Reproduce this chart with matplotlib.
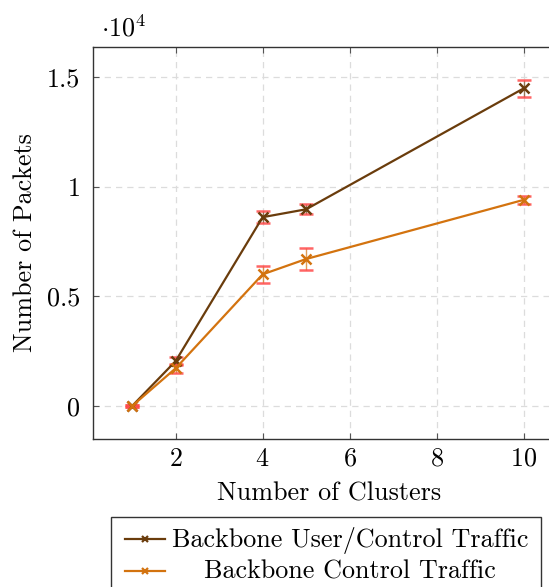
import matplotlib
matplotlib.use("Agg")
import matplotlib.pyplot as plt
from matplotlib.lines import Line2D
from matplotlib.patches import Rectangle
from matplotlib.ticker import FuncFormatter

# Data
clusters = [1, 2, 4, 5, 10]
user_control = [0, 2050, 8620, 8980, 14500]
user_control_err = [60, 180, 265, 230, 400]
control_only = [0, 1720, 6010, 6710, 9410]
control_only_err = [60, 210, 400, 490, 170]

series_labels = ["Backbone User/Control Traffic", "Backbone Control Traffic"]
x_ticks = [2, 4, 6, 8, 10]
y_ticks = [0, 5000, 10000, 15000]

brown = "#6a3c0c"
orange = "#d3730f"
cap_red = "#ff4a4a"

plt.rcParams["font.family"] = ["cmr10", "DejaVu Serif"]
plt.rcParams["mathtext.fontset"] = "cm"
plt.rcParams["axes.formatter.use_mathtext"] = True
FS = 18.8

W, H = 549, 587
fig = plt.figure(figsize=(W / 100, H / 100), dpi=100)

ax_left, ax_bottom = 93 / W, 1 - 438.6 / H
ax_width, ax_height = 469.8 / W, (438.6 - 47) / H
ax = fig.add_axes([ax_left, ax_bottom, ax_width, ax_height])

for y, err, col in [(user_control, user_control_err, brown),
                    (control_only, control_only_err, orange)]:
    line, caps, bars = ax.errorbar(clusters, y, yerr=err, color=col, lw=1.6,
                                   marker="x", ms=6.5, mew=1.8, ecolor=col,
                                   elinewidth=1.0, capsize=5, capthick=1.2,
                                   zorder=3)
    for c in caps:
        c.set_color(cap_red)
        c.set_markeredgecolor(cap_red)
        c.set_markerfacecolor(cap_red)
        c.set_alpha(0.85)
    for b in bars:
        b.set_alpha(0.7)

ax.set_xlim(0.1, 10.9)
ax.set_ylim(-1490, 16390)
ax.set_xticks(x_ticks)
ax.set_yticks(y_ticks)
ax.yaxis.set_major_formatter(FuncFormatter(lambda v, p: f"{v / 1e4:g}"))

ax.grid(True, color="#dcdcdc", ls=(0, (5, 4)), lw=0.9)
ax.set_axisbelow(True)
for s in ["left", "bottom", "top"]:
    ax.spines[s].set_color("#333333")
    ax.spines[s].set_linewidth(1.0)
ax.spines["right"].set_visible(False)
ax.tick_params(direction="in", length=4, width=0.8, color="#555555",
               labelsize=FS, top=True, right=False)
ax.tick_params(axis="x", pad=6)
ax.tick_params(axis="y", pad=9)

ax.set_xlabel("Number of Clusters", fontsize=FS, va="center")
ax.xaxis.set_label_coords((329 - 93) / 469.8, (438.6 - 494) / 391.6)
ax.set_ylabel("Number of Packets", fontsize=FS, va="center")
ax.yaxis.set_label_coords((25 - 93) / 469.8, 0.5)

fig.text(101 / W, 1 - 28 / H, r"$\cdot 10^{4}$", fontsize=FS, ha="left",
         va="center")

# Legend box below the axes
box_l, box_r, box_t, box_b = 111, 541, 517, 600
fig.add_artist(Rectangle((box_l / W, 1 - box_b / H), (box_r - box_l) / W,
                         (box_b - box_t) / H, transform=fig.transFigure,
                         fill=False, ec="#333333", lw=1.0))
rows_y = [539, 571]
for lbl, col, yy in zip(series_labels, [brown, orange], rows_y):
    fig.add_artist(Line2D([125 / W, 165 / W], [1 - yy / H] * 2,
                          transform=fig.transFigure, color=col, lw=1.6))
    fig.add_artist(Line2D([145 / W], [1 - yy / H], transform=fig.transFigure,
                          color=col, marker="x", ms=5, mew=1.6, ls="none"))
    fig.text(350 / W, 1 - (yy + 1) / H, lbl, fontsize=FS, ha="center",
             va="center")

fig.savefig("out.png", dpi=100)
